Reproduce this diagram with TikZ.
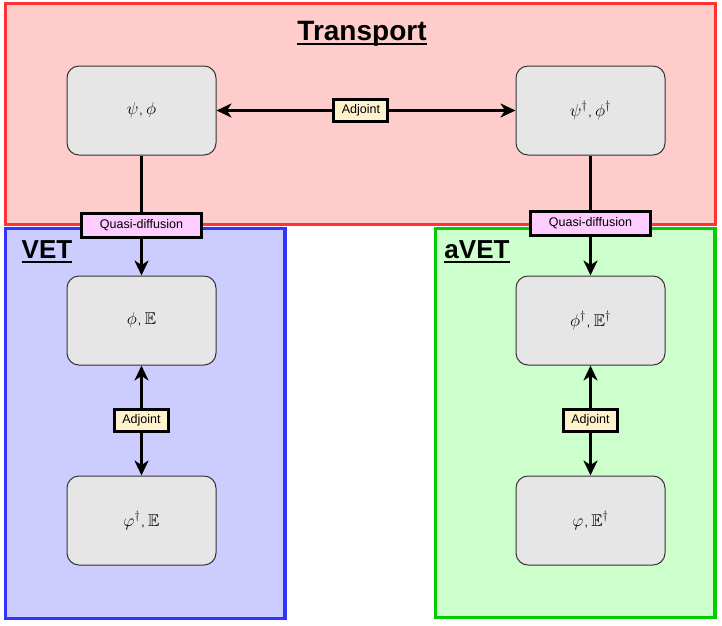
\documentclass[tikz,border=0pt]{standalone}
\usepackage{fontspec}
\usepackage{amssymb}
\setmainfont{Liberation Sans}
\usetikzlibrary{arrows.meta}
\definecolor{trfill}{HTML}{FFCCCC}
\definecolor{trdraw}{HTML}{FF3333}
\definecolor{vetfill}{HTML}{CCCCFF}
\definecolor{vetdraw}{HTML}{3333FF}
\definecolor{avetfill}{HTML}{CCFFCC}
\definecolor{avetdraw}{HTML}{00CC00}
\definecolor{boxfill}{HTML}{E6E6E6}
\definecolor{boxdraw}{HTML}{333333}
\definecolor{adjfill}{HTML}{FFF2CC}
\definecolor{qdfill}{HTML}{FFCCFF}
\newcommand{\cm}{\hspace{1pt}{\fontsize{12}{14}\selectfont,}\hspace{3.5pt}}
\begin{document}
\begin{tikzpicture}[x=1pt,y=-1pt,
  container/.style={line width=3.5pt},
  mathbox/.style={draw=boxdraw,fill=boxfill,line width=1pt,rounded corners=12pt,
    minimum width=149pt,minimum height=89pt,inner sep=0pt,
    font=\fontsize{17}{20}\selectfont},
  title/.style={font=\fontsize{26}{30}\selectfont\bfseries,inner sep=0pt,anchor=base},
  uline/.style={line width=2pt},
  lbl/.style={draw=black,line width=3pt,inner sep=0pt,
    font=\fontsize{12.5}{14}\selectfont,text height=9pt,text depth=3pt},
  adjlbl/.style={lbl,fill=adjfill,minimum width=54pt,minimum height=22pt},
  qdlbl/.style={lbl,fill=qdfill,minimum width=120pt,minimum height=24pt},
  conn/.style={line width=2.5pt,-{Stealth[length=15pt,width=14pt,inset=4.5pt]}},
  dconn/.style={line width=2.5pt,{Stealth[length=15pt,width=14pt,inset=4.5pt]}-{Stealth[length=15pt,width=14pt,inset=4.5pt]}}
]
\useasboundingbox (0,0) rectangle (722,625);
% containers
\draw[container,draw=trdraw,fill=trfill] (5.5,3.5) rectangle (715.5,224.5);
\draw[container,draw=vetdraw,fill=vetfill] (5.5,228.5) rectangle (285,618.5);
\draw[container,draw=avetdraw,fill=avetfill] (435.5,228.5) rectangle (715,617.5);
% titles
\node[title,font=\fontsize{28}{30}\selectfont\bfseries] (ttr) at (362,40) {Transport};
\draw[uline] ([yshift=-3.5pt]ttr.base west) -- ([yshift=-3.5pt]ttr.base east);
\node[title] (tvet) at (47,258) {VET};
\draw[uline] ([yshift=-3.5pt]tvet.base west) -- ([yshift=-3.5pt]tvet.base east);
\node[title] (tavet) at (477,258) {aVET};
\draw[uline] ([yshift=-3.5pt]tavet.base west) -- ([yshift=-3.5pt]tavet.base east);
% boxes
\node[mathbox] (b1) at (141.5,110.5) {$\psi$\cm$\phi$};
\node[mathbox] (b2) at (590.5,110.5) {$\psi^\dagger$\cm$\phi^\dagger$};
\node[mathbox] (b3) at (141.5,320.5) {$\phi$\cm$\mathbb{E}$};
\node[mathbox] (b4) at (141.5,520.5) {$\varphi^\dagger$\cm$\mathbb{E}$};
\node[mathbox] (b5) at (590.5,320.5) {$\phi^\dagger$\cm$\mathbb{E}^\dagger$};
\node[mathbox] (b6) at (590.5,520.5) {$\varphi$\cm$\mathbb{E}^\dagger$};
% connectors
\draw[dconn] (b1) -- node[adjlbl,pos=0.483] (l1) {Adjoint} (b2);
\draw[conn] (b1) -- node[qdlbl,pos=0.58] (l2) {Quasi-diffusion} (b3);
\draw[conn] (b2) -- node[qdlbl,pos=0.57] (l3) {Quasi-diffusion} (b5);
\draw[dconn] (b3) -- node[adjlbl,pos=0.5] (l4) {Adjoint} (b4);
\draw[dconn] (b5) -- node[adjlbl,pos=0.5] (l5) {Adjoint} (b6);
\end{tikzpicture}
\end{document}
